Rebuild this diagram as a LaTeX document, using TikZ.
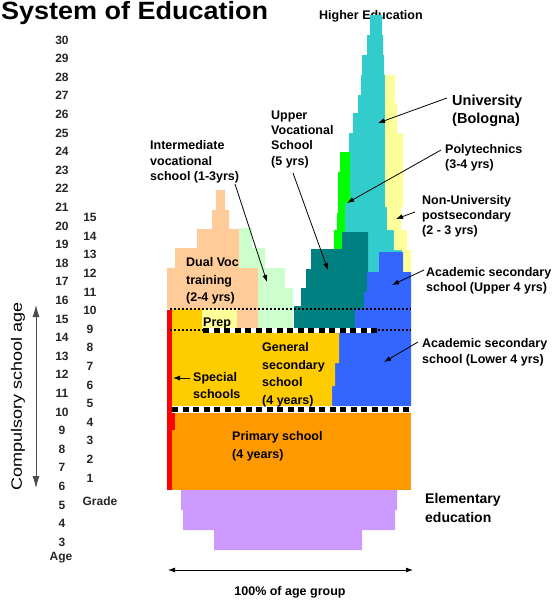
\documentclass[tikz,border=0pt]{standalone}
\usepackage{fontspec}
\setmainfont{Liberation Sans}
\usetikzlibrary{arrows.meta}
\definecolor{peach}{HTML}{FFCC99}
\definecolor{lgreen}{HTML}{CCFFCC}
\definecolor{tealc}{HTML}{008080}
\definecolor{cyanc}{HTML}{33CCCC}
\definecolor{lyellow}{HTML}{FFFF99}
\definecolor{greenc}{HTML}{00FF00}
\definecolor{bluec}{HTML}{3366FF}
\definecolor{gold}{HTML}{FFCC00}
\definecolor{orangec}{HTML}{FF9900}
\definecolor{redc}{HTML}{FF0000}
\definecolor{purplec}{HTML}{CC99FF}
\begin{document}
\begin{tikzpicture}[x=1pt,y=-1pt,
  lbl/.style={font=\fontsize{12.5}{#1}\selectfont\bfseries, inner sep=0pt, align=left, anchor=north west, text=black},
  lbl/.default=15.3,
  num/.style={font=\fontsize{12}{12}\selectfont\bfseries, inner sep=0pt, text=black!85},
  ptr/.style={-{Latex[length=7pt,width=5pt]}, line width=0.8pt},
  dblarrow/.style={{Latex[length=7pt,width=5pt]}-{Latex[length=7pt,width=5pt]}, line width=0.8pt},
  thindot/.style={line width=1.8pt, dash pattern=on 2pt off 2pt},
  thickdash/.style={line width=5pt, dash pattern=on 6pt off 4.5pt}]
\useasboundingbox (0,0) rectangle (555,603);
\node[anchor=base west, inner sep=0pt, font=\fontsize{25}{25}\selectfont\bfseries] (title) at (1,19) {\scalebox{1.08}[1]{System of Education}};
\node[lbl, anchor=base west] (higher) at (319,19.5) {Higher Education};

% age and grade axes
\foreach \a in {3,...,30} \node[num] (age\a) at (62,{40+(30-\a)*18.6}) {\a};
\node[num] (agelbl) at (61,558) {Age};
\foreach \g in {1,...,15} \node[num] (grade\g) at (90,{478-(\g-1)*18.6}) {\g};
\node[num] (gradelbl) at (100,501) {Grade};
\node[rotate=90, inner sep=0pt, font=\fontsize{15}{15}\selectfont] (compuls) at (18,396) {\scalebox{1.2}[1]{Compulsory school age}};
\coordinate (ctop) at (36,305);
\coordinate (cbot) at (36,488);
\draw[{Latex[length=12pt,width=7pt]}-{Latex[length=12pt,width=7pt]}, line width=0.8pt, black!70] (ctop) -- (cbot);

% higher education
\fill[cyanc] (370,15)--(382,15)--(382,35)--(383,35)--(383,55)--(384,55)--(384,75)--(390,75)--(390,230)--(396,230)--(396,250)--(404,250)--(404,272)--(338,272)--(338,212)--(340,212)--(340,192)--(342,192)--(342,172)--(345,172)--(345,152)--(349,152)--(349,133)--(353,133)--(353,113)--(358,113)--(358,95)--(361,95)--(361,75)--(362,75)--(362,55)--(367,55)--(367,35)--(370,35)--cycle;
\fill[lyellow] (385,75)--(395,75)--(395,103)--(397,103)--(397,133)--(403,133)--(403,207)--(401,207)--(401,230)--(407,230)--(407,250)--(411,250)--(411,272)--(402,272)--(402,250)--(394,250)--(394,230)--(387,230)--(387,207)--(385,207)--cycle;
\fill[greenc] (340,152)--(350,152)--(350,203)--(345,203)--(345,235)--(342,235)--(342,250)--(334,250)--(334,230)--(337,230)--(337,213)--(338,213)--(338,172)--(340,172)--cycle;
\fill[tealc] (342,232)--(368,232)--(368,330)--(294,330)--(294,306)--(301,306)--(301,288)--(306,288)--(306,269)--(311,269)--(311,249)--(342,249)--cycle;
\fill[bluec] (379,252)--(403,252)--(403,272)--(411,272)--(411,330)--(355,330)--(355,309)--(364,309)--(364,292)--(367,292)--(367,272)--(379,272)--cycle;

% vocational
\fill[lgreen] (239,228)--(252,228)--(252,248)--(265,248)--(265,268)--(285,268)--(285,288)--(293,288)--(293,330)--(239,330)--cycle;
\fill[peach] (216,190)--(225,190)--(225,210)--(229,210)--(229,229)--(239,229)--(239,268)--(258,268)--(258,330)--(237,330)--(237,309)--(167,309)--(167,268)--(175,268)--(175,248)--(197,248)--(197,229)--(212,229)--(212,210)--(216,210)--cycle;

% lower secondary
\fill[bluec] (339,330)--(411,330)--(411,410)--(332,410)--(332,386)--(335,386)--(335,363)--(339,363)--cycle;
\fill[gold] (172,309)--(202,309)--(202,330)--(339,330)--(339,363)--(335,363)--(335,386)--(332,386)--(332,410)--(172,410)--cycle;
\fill[lyellow] (202,309) rectangle (237,330);

% primary and elementary
\fill[orangec] (172,410) rectangle (411,490);
\fill[redc] (167,310) rectangle (172,490);
\fill[redc] (167,410) rectangle (175,430);
\fill[purplec] (181,490)--(397,490)--(397,510)--(395,510)--(395,530)--(362,530)--(362,550)--(214,550)--(214,530)--(183,530)--(183,510)--(181,510)--cycle;

% separators
\draw[thindot] (170,309) -- (411,309);
\draw[thindot] (170,330) -- (411,330);
\draw[white, line width=5pt] (203,330) -- (377,330);
\draw[thickdash] (203,330) -- (377,330);
\fill[white] (172,406) rectangle (413,413);
\draw[thickdash] (172,409) -- (413,409);

% labels
\node[lbl] (interm) at (150,140.5) {Intermediate\\vocational\\school (1-3yrs)};
\node[lbl] (uppervoc) at (271,110.5) {Upper\\Vocational\\School\\(5 yrs)};
\node[lbl=17.5] (dualvoc) at (186,257.5) {Dual Voc\\training\\(2-4 yrs)};
\node[lbl=18, font=\fontsize{14.5}{18}\selectfont\bfseries] (univ) at (452,95) {University\\(Bologna)};
\node[lbl=14.5] (poly) at (445,144.5) {Polytechnics\\(3-4 yrs)};
\node[lbl=15] (nonuniv) at (422,195.5) {Non-University\\postsecondary\\(2 - 3 yrs)};
\node[lbl=15] (acadup) at (426,267.5) {Academic secondary\\school (Upper 4 yrs)};
\node[lbl=15.5] (acadlow) at (422,338.5) {Academic secondary\\school (Lower 4 yrs)};
\node[lbl=17.5] (gensec) at (262,342.5) {General\\secondary\\school\\(4 years)};
\node[lbl=17] (special) at (193,372.5) {Special\\schools};
\node[lbl] (prep) at (203,317.5) {Prep};
\node[lbl=18] (primary) at (232,431.5) {Primary school\\(4 years)};
\node[lbl=19, font=\fontsize{14}{19}\selectfont\bfseries] (elem) at (425,493) {Elementary\\education};
\node[lbl, anchor=base] (pct) at (290,595.5) {100\% of age group};

% pointers
\coordinate (pInterm) at (235,184);
\coordinate (tInterm) at (267,282);
\coordinate (pUpper) at (293,173);
\coordinate (tUpper) at (328,270);
\coordinate (pUniv) at (447,98);
\coordinate (tUniv) at (378,123);
\coordinate (pPoly) at (441,150);
\coordinate (tPoly) at (347,203);
\coordinate (pNon) at (415,212);
\coordinate (tNon) at (396,219);
\coordinate (pAU) at (424,270);
\coordinate (tAU) at (392,285);
\coordinate (pAL) at (418,342);
\coordinate (tAL) at (384,362);
\coordinate (pSp) at (190,378);
\coordinate (tSp) at (173,378);
\draw[ptr] (pInterm) -- (tInterm);
\draw[ptr] (pUpper) -- (tUpper);
\draw[ptr] (pUniv) -- (tUniv);
\draw[ptr] (pPoly) -- (tPoly);
\draw[ptr] (pNon) -- (tNon);
\draw[ptr] (pAU) -- (tAU);
\draw[ptr] (pAL) -- (tAL);
\draw[ptr] (pSp) -- (tSp);

\coordinate (wl) at (168,570);
\coordinate (wr) at (413,570);
\draw[dblarrow] (wl) -- (wr);
\end{tikzpicture}
\end{document}
